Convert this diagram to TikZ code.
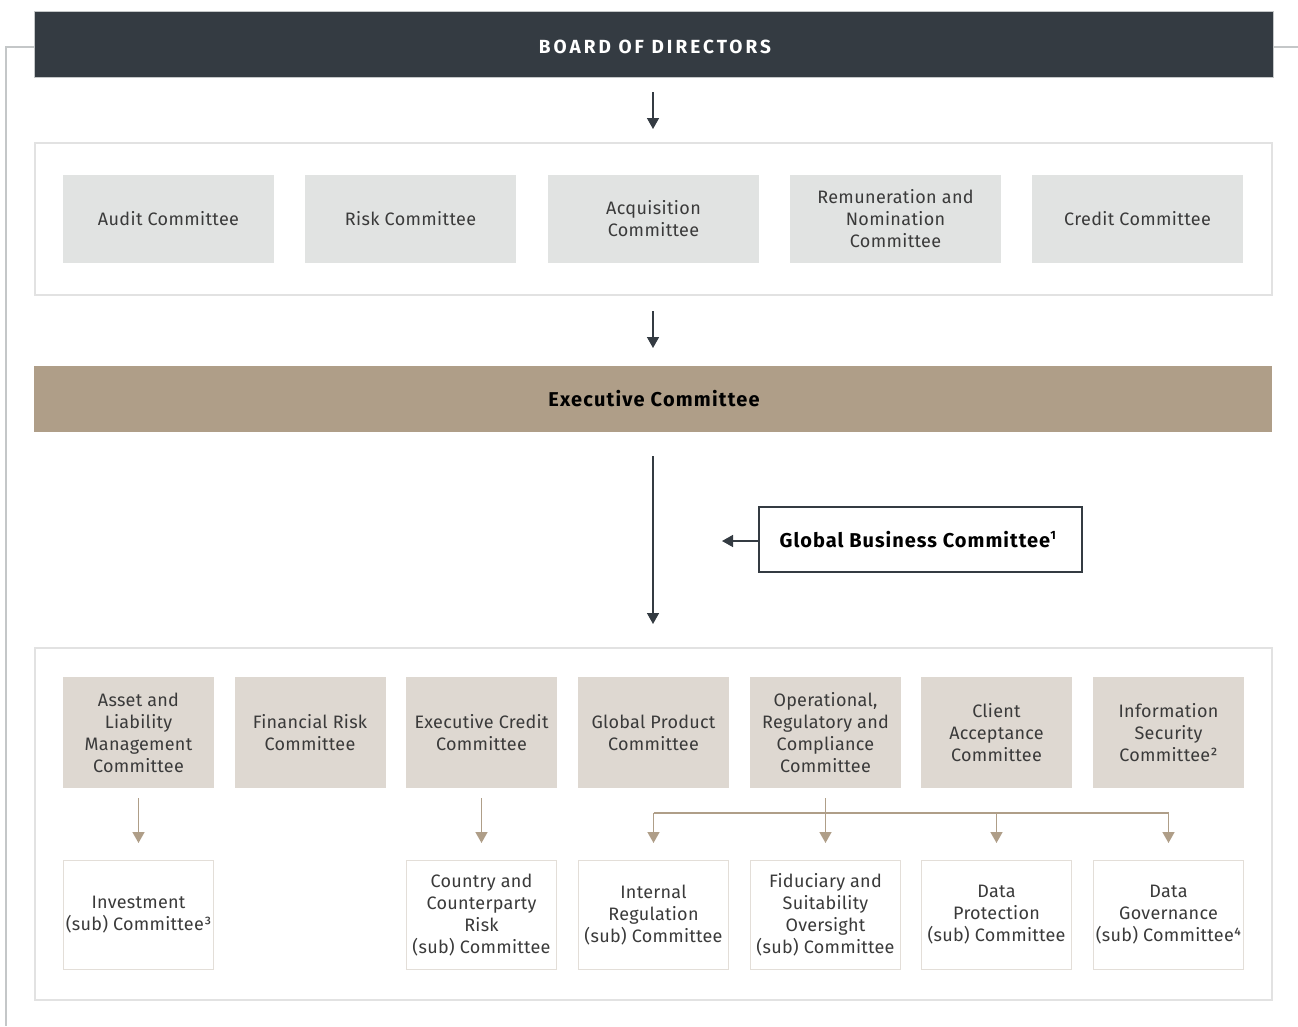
\documentclass[tikz,border=0pt]{standalone}
\usepackage{fontspec}
\setmainfont{Fira Sans}
\usetikzlibrary{arrows.meta}
\definecolor{darkhead}{HTML}{343B42}
\definecolor{taupe}{HTML}{AF9E88}
\definecolor{lightgray}{HTML}{E1E3E2}
\definecolor{beige}{HTML}{DED8D1}
\definecolor{framegray}{HTML}{E2E2E2}
\definecolor{beigeline}{HTML}{E3DED8}
\definecolor{sidegray}{HTML}{C4C7C8}
\definecolor{txt}{HTML}{3A3A3A}
\begin{document}
\begin{tikzpicture}[x=1pt,y=-1pt,
  every node/.style={inner sep=0pt, outer sep=0pt},
  board/.style={fill=lightgray, minimum width=211pt, minimum height=88pt, align=center, text=txt, font=\addfontfeatures{LetterSpace=2}\fontsize{18}{22}\selectfont},
  exec/.style={fill=beige, minimum width=151pt, minimum height=111pt, align=center, text=txt, font=\addfontfeatures{LetterSpace=1.5}\fontsize{18}{22}\selectfont},
  sub/.style={fill=white, draw=beigeline, line width=1.5pt, minimum width=150pt, minimum height=109pt, align=center, text=txt, font=\addfontfeatures{LetterSpace=1.5}\fontsize{18}{22}\selectfont},
  darrow/.style={draw=darkhead, line width=1.5pt, -{Triangle[length=11pt,width=12pt]}},
  tarrow/.style={draw=taupe, line width=1.5pt, -{Triangle[length=11pt,width=12pt]}},
  tline/.style={draw=taupe, line width=1.5pt},
  frame/.style={draw=framegray, line width=1.5pt}
]
\useasboundingbox (0,0) rectangle (1298,1026);
% side lines
\draw[sidegray, line width=1.5pt] (34,47) -- (6,47) -- (6,1026);
\draw[sidegray, line width=1.5pt] (1273,47) -- (1298,47);
% board header
\node[fill=darkhead, draw=sidegray, line width=0.8pt, minimum width=1239pt, minimum height=66pt] (bod) at (653.5,44) {};
\node[text=white, font=\bfseries\addfontfeatures{LetterSpace=16}\fontsize{19}{22}\selectfont, anchor=base] (bodt) at (655,53.5) {BOARD OF DIRECTORS};
% committees frame
\draw[frame] (35,143) rectangle (1272,295);
\node[board] (audit) at (168.5,219) {Audit Committee};
\node[board] (risk) at (410.5,219) {Risk Committee};
\node[board] (acq) at (653.5,219) {Acquisition\\Committee};
\node[board] (rem) at (895.5,219) {Remuneration and\\Nomination\\Committee};
\node[board] (cred) at (1137.5,219) {Credit Committee};
\coordinate (a1s) at (653,92); \coordinate (a1e) at (653,129);
\draw[darrow] (a1s) -- (a1e);
\coordinate (a2s) at (653,311); \coordinate (a2e) at (653,348);
\draw[darrow] (a2s) -- (a2e);
% executive committee
\node[fill=taupe, minimum width=1238pt, minimum height=66pt] (ec) at (653,399) {};
\node[text=black, font=\bfseries\addfontfeatures{LetterSpace=6}\fontsize{20}{24}\selectfont, anchor=base] (ect) at (654,406) {Executive Committee};
\coordinate (a3s) at (653,456); \coordinate (a3e) at (653,624);
\draw[darrow] (a3s) -- (a3e);
\node[draw=darkhead, line width=1.5pt, fill=white, minimum width=323pt, minimum height=65pt] (gbc) at (920.5,539.5) {};
\node[text=black, font=\bfseries\addfontfeatures{LetterSpace=5}\fontsize{20}{24}\selectfont, anchor=base] (gbct) at (918,547) {Global Business Committee\textsuperscript{\fontsize{12}{12}\selectfont 1}};
\coordinate (gbe) at (722,541);
\draw[darrow] (gbc.west |- gbe) -- (gbe);
% bottom frame
\draw[frame] (35,648) rectangle (1272,1000);
\node[exec] (alm) at (138.5,732.5) {Asset and\\Liability\\Management\\Committee};
\node[exec] (frc) at (310,732.5) {Financial Risk\\Committee};
\node[exec] (ecc) at (481.5,732.5) {Executive Credit\\Committee};
\node[exec] (gpc) at (653.5,732.5) {Global Product\\Committee};
\node[exec] (orc) at (825.5,732.5) {Operational,\\Regulatory and\\Compliance\\Committee};
\node[exec] (cac) at (996.5,732.5) {Client\\Acceptance\\Committee};
\node[exec] (isc) at (1168.5,732.5) {Information\\Security\\Committee²};
\node[sub] (inv) at (138.5,915) {Investment\\(sub) Committee³};
\node[sub] (ccr) at (481.5,915) {Country and\\Counterparty\\Risk\\(sub) Committee};
\node[sub] (irc) at (653.5,915) {Internal\\Regulation\\(sub) Committee};
\node[sub] (fso) at (825.5,915) {Fiduciary and\\Suitability\\Oversight\\(sub) Committee};
\node[sub] (dpc) at (996.5,915) {Data\\Protection\\(sub) Committee};
\node[sub] (dgc) at (1168.5,915) {Data\\Governance\\(sub) Committee⁴};
% taupe arrows
\coordinate (top) at (0,798);
\coordinate (bar) at (0,813);
\coordinate (tip) at (0,843);
\draw[tarrow] (alm.south |- top) -- (alm.south |- tip);
\draw[tarrow] (ecc.south |- top) -- (ecc.south |- tip);
\draw[tarrow] (orc.south |- top) -- (orc.south |- tip);
\draw[tline] (irc.north |- bar) -- (dgc.north |- bar);
\draw[tarrow] (irc.north |- bar) -- (irc.north |- tip);
\draw[tarrow] (dpc.north |- bar) -- (dpc.north |- tip);
\draw[tarrow] (dgc.north |- bar) -- (dgc.north |- tip);
\end{tikzpicture}
\end{document}
